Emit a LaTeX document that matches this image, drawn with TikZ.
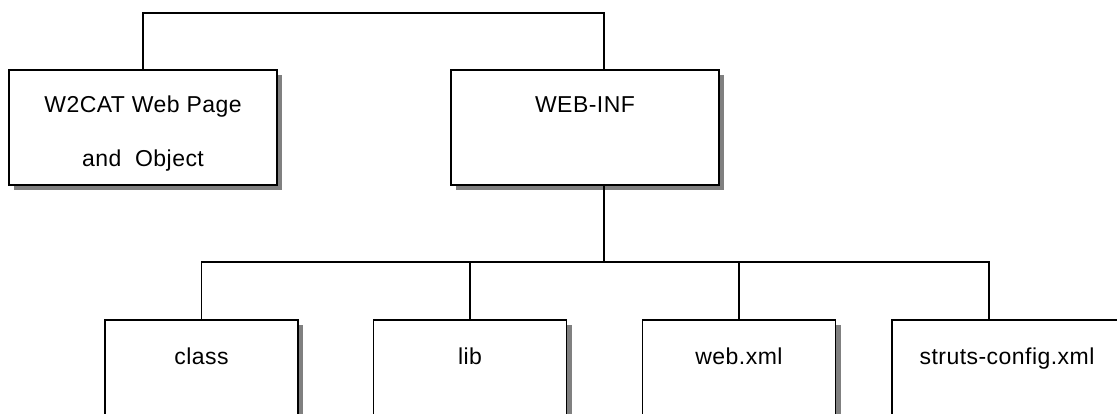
\documentclass[tikz,border=0pt]{standalone}
\usepackage{fontspec}
\setmainfont{Liberation Sans}
\newfontfamily\lbfont{Liberation Sans}[LetterSpace=2]
\usetikzlibrary{shadows}
\begin{document}
\begin{tikzpicture}[x=1pt,y=-1pt,
  box/.style={draw, line width=1.6pt, fill=white, inner sep=0pt,
    drop shadow={shadow xshift=5pt, shadow yshift=-5pt, fill=black!50, opacity=1}},
  topbox/.style={box, minimum width=268pt, minimum height=115pt},
  botbox/.style={box, minimum width=193pt, minimum height=120pt},
  lbl/.style={font=\lbfont\fontsize{23}{27}\selectfont, anchor=base, inner sep=0pt},
  conn/.style={line width=1.3pt}]
\useasboundingbox (0,0) rectangle (1117,414);
\node[topbox] (w2cat) at (143,127.5) {};
\node[topbox] (webinf) at (585,127.5) {};
\node[botbox] (class) at (201.5,380) {};
\node[botbox] (lib) at (470,380) {};
\node[botbox] (web) at (739,380) {};
\node[botbox, minimum width=230pt] (struts) at (1007,380) {};
\node[lbl] (t1) at (143,113) {W2CAT Web Page};
\node[lbl] (t2) at (143,167) {and\ \ Object};
\node[lbl] (t3) at (585,113) {WEB-INF};
\node[lbl] (t4) at (201.5,364) {class};
\node[lbl] (t5) at (470,364) {lib};
\node[lbl] (t6) at (739,364) {web.xml};
\node[lbl] (t7) at (1007,364) {struts-config.xml};
\coordinate (top) at (604,13);
\coordinate (bus) at (604,262);
\draw[conn] (w2cat.north) |- (top) -- ([xshift=19pt]webinf.north);
\draw[conn] ([xshift=19pt]webinf.south) -- (bus);
\draw[conn] (class.north) |- (bus) -| ([xshift=-18pt]struts.north);
\draw[conn] (lib.north) -- (lib.north |- bus);
\draw[conn] (web.north) -- (web.north |- bus);
\end{tikzpicture}
\end{document}
